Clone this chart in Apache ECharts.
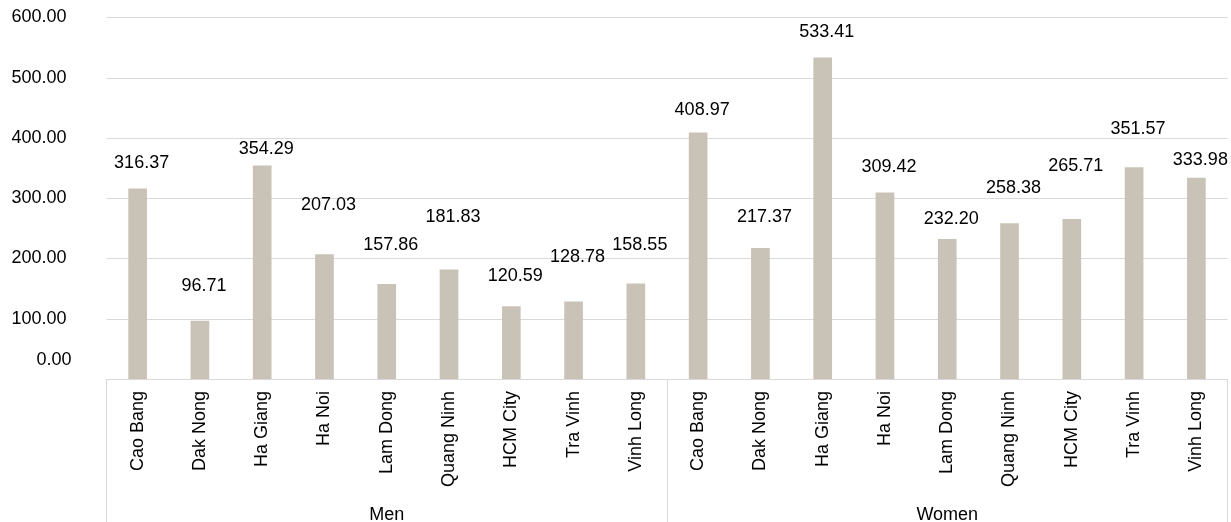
<!DOCTYPE html>
<html>
<head>
<meta charset="utf-8">
<script src="https://cdn.jsdelivr.net/npm/echarts@6/dist/echarts.min.js"></script>
<style>
  html, body { margin: 0; padding: 0; background: #fff; }
  #chart { width: 1231px; height: 522px; }
</style>
</head>
<body>
<div id="chart"></div>
<script>
// Provinces, repeated inside each sex group
const provinces = ['Cao Bang', 'Dak Nong', 'Ha Giang', 'Ha Noi', 'Lam Dong', 'Quang Ninh', 'HCM City', 'Tra Vinh', 'Vinh Long'];
const groups = ['Men', 'Women'];
const menValues = [316.37, 96.71, 354.29, 207.03, 157.86, 181.83, 120.59, 128.78, 158.55];
const womenValues = [408.97, 217.37, 533.41, 309.42, 232.20, 258.38, 265.71, 351.57, 333.98];
const yMin = 0, yMax = 600, yStep = 100;

// Extra lift (px) of each value label above its bar, per group
const menLabelLift = [11, 21, 3, 35, 25, 38, 16, 30, 24];
const womenLabelLift = [9, 17, 12, 12, 6, 21, 39, 24, 4];

const FONT = '"Liberation Sans", Arial, Helvetica, sans-serif';
const BAR_COLOR = '#c9c2b7';
const LINE_COLOR = '#d9d9d9';
const TEXT_COLOR = '#000000';

const categoryLabels = [];
const barData = [];
[[menValues, menLabelLift], [womenValues, womenLabelLift]].forEach(([vals, lifts]) => {
  vals.forEach((v, i) => {
    categoryLabels.push(provinces[i]);
    barData.push({ value: v, label: { offset: [4, -lifts[i]] } });
  });
});

const chart = echarts.init(document.getElementById('chart'), null, { renderer: 'canvas' });

chart.setOption({
  animation: false,
  backgroundColor: '#ffffff',
  textStyle: { fontFamily: FONT },
  grid: {
    left: 106.5, right: 3.5, top: 17.5, bottom: 143,
    containLabel: false,
    outerBoundsMode: 'none'
  },
  xAxis: [
    {
      type: 'category',
      data: categoryLabels,
      boundaryGap: true,
      axisLine: { show: true, lineStyle: { color: LINE_COLOR, width: 1 } },
      axisTick: { show: false },
      splitLine: { show: false },
      axisLabel: {
        interval: 0,
        rotate: 90,
        margin: 12,
        fontSize: 18,
        fontFamily: FONT,
        color: TEXT_COLOR
      }
    },
    {
      // Group row: the long ticks draw the box dividers below the plot
      type: 'category',
      data: groups,
      position: 'bottom',
      boundaryGap: true,
      axisLine: { show: false },
      axisTick: { show: true, length: 143, lineStyle: { color: LINE_COLOR, width: 1 } },
      splitLine: { show: false },
      axisLabel: {
        interval: 0,
        margin: 127,
        fontSize: 18,
        fontFamily: FONT,
        color: TEXT_COLOR
      }
    }
  ],
  yAxis: {
    type: 'value',
    min: yMin,
    max: yMax,
    interval: yStep,
    axisLine: { show: false },
    axisTick: { show: false },
    splitLine: { show: true, lineStyle: { color: LINE_COLOR, width: 1 } },
    axisLabel: {
      margin: 35,
      formatter: v => (v === yMin ? '{z|' + v.toFixed(2) + '}' : '{n|' + v.toFixed(2) + '}'),
      rich: {
        n: { fontSize: 18, fontFamily: FONT, color: TEXT_COLOR, padding: [0, 5, 0, 0] },
        z: { fontSize: 18, fontFamily: FONT, color: TEXT_COLOR, padding: [0, 0, 38, 0] }
      }
    }
  },
  series: [
    {
      type: 'bar',
      xAxisIndex: 0,
      data: barData,
      barWidth: '30%',
      itemStyle: { color: BAR_COLOR },
      label: {
        show: true,
        position: 'top',
        distance: 5,
        fontSize: 18,
        fontFamily: FONT,
        color: TEXT_COLOR,
        formatter: p => p.value.toFixed(2)
      }
    }
  ]
});
</script>
</body>
</html>
